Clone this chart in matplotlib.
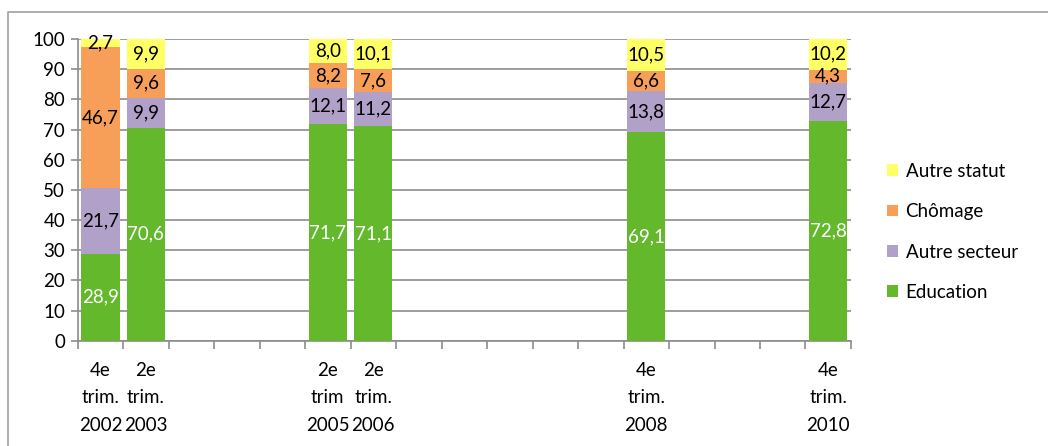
import numpy as np
from matplotlib import pyplot as plt
from matplotlib.lines import Line2D


# slots on the category axis (17 slots, most of them empty)
positions = [0, 1, 5, 6, 12, 16]
periods = ['4e\ntrim.\n2002', '2e\ntrim.\n2003', '2e\ntrim\n2005',
           '2e\ntrim.\n2006', '4e\ntrim.\n2008', '4e\ntrim.\n2010']

education = [28.9, 70.6, 71.7, 71.1, 69.1, 72.8]
autre_secteur = [21.7, 9.9, 12.1, 11.2, 13.8, 12.7]
chomage = [46.7, 9.6, 8.2, 7.6, 6.6, 4.3]
autre_statut = [2.7, 9.9, 8.0, 10.1, 10.5, 10.2]

series = [
    ('Education', education, '#63B82B', 'white'),
    ('Autre secteur', autre_secteur, '#B1A0C7', 'black'),
    ('Chômage', chomage, '#F79F58', 'black'),
    ('Autre statut', autre_statut, '#FFFF66', 'black'),
]

N_SLOTS = 17
GRID = '#8C8C8C'
FS = 13.5


def fmt(v):
    return f'{v:.1f}'.replace('.', ',')


def main():
    plt.rcParams['font.family'] = ['Lato', 'DejaVu Sans']
    fig = plt.figure(figsize=(10.48, 4.46), dpi=100)
    ax = fig.add_axes([0.0741, 0.236, 0.812 - 0.0741, 0.9126 - 0.236])

    bottom = np.zeros(len(positions))
    handles = []
    for name, vals, color, tcolor in series:
        vals = np.array(vals)
        bars = ax.bar(positions, vals, width=0.84, bottom=bottom,
                      color=color, label=name, zorder=3)
        for x, b, v in zip(positions, bottom, vals):
            ax.text(x, b + v / 2, fmt(v), ha='center', va='center',
                    color=tcolor, fontsize=FS, zorder=4)
        bottom += vals
        handles.append(bars)

    ax.set_xlim(-0.5, N_SLOTS - 0.5)
    ax.set_ylim(0, 100)
    ax.set_yticks(range(0, 101, 10))
    ax.yaxis.grid(True, color=GRID, linewidth=1.2, zorder=0)
    ax.set_axisbelow(True)

    ax.set_xticks(positions)
    ax.set_xticklabels(periods, fontsize=FS, linespacing=1.78)
    ax.set_xticks(np.arange(-0.5, N_SLOTS, 1), minor=True)
    ax.tick_params(axis='x', which='major', length=0, pad=15)
    ax.tick_params(axis='x', which='minor', length=6, color=GRID, width=1.2)
    ax.tick_params(axis='y', length=5, color=GRID, width=1.2,
                   labelsize=FS, pad=4)

    for side in ['top', 'right']:
        ax.spines[side].set_visible(False)
    for side in ['left', 'bottom']:
        ax.spines[side].set_color(GRID)
        ax.spines[side].set_linewidth(1.2)

    fig.legend(handles[::-1], [s[0] for s in series][::-1],
               loc='upper left', bbox_to_anchor=(0.839, 0.652),
               frameon=False, fontsize=FS, handlelength=0.6,
               handleheight=0.6, handletextpad=0.4,
               labelspacing=1.25, borderaxespad=0)

    # outer chart frame (left and top visible)
    fig.add_artist(Line2D([8 / 1048, 8 / 1048, 1.0], [0.0, 1 - 12 / 446, 1 - 12 / 446],
                          transform=fig.transFigure, color='#A0A0A0', linewidth=1.2))

    fig.savefig('out.png', dpi=100)


if __name__ == '__main__':
    main()
